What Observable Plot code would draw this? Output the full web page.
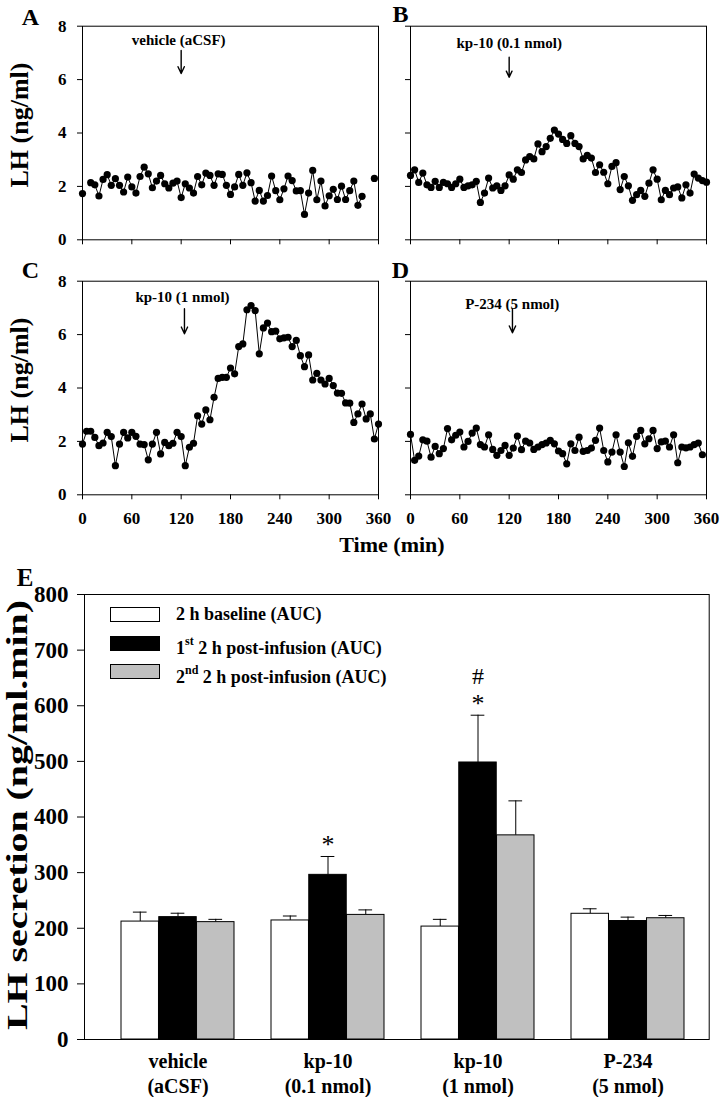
<!DOCTYPE html>
<html><head><meta charset="utf-8">
<script src="https://cdn.jsdelivr.net/npm/d3@7"></script>
<script src="https://cdn.jsdelivr.net/npm/@observablehq/plot@0.6"></script>
<style>
body{margin:0;background:#fff;}
#fig{position:relative;width:722px;height:1097px;font-family:"Liberation Serif","Times New Roman",serif;font-weight:bold;color:#000;overflow:hidden;}
.abs{position:absolute;white-space:nowrap;}
.sw{position:absolute;width:50px;height:15px;box-sizing:border-box;border:1px solid #000;}
sup{font-size:12px;position:relative;top:-2px;}
</style></head><body><div id="fig"></div>
<script>
// ---------- data: panels A-D (LH, ng/ml, sampled every 5 min) ----------
const minutes = [0,5,10,15,20,25,30,35,40,45,50,55,60,65,70,75,80,85,90,95,100,105,110,115,120,125,130,135,140,145,150,155,160,165,170,175,180,185,190,195,200,205,210,215,220,225,230,235,240,245,250,255,260,265,270,275,280,285,290,295,300,305,310,315,320,325,330,335,340,345,350,355,360];
const lhVehicle = [1.73,null,2.14,2.06,1.64,2.26,2.44,2.04,2.29,2.04,1.79,2.35,1.98,1.75,2.37,2.72,2.47,1.95,2.2,2.41,2.1,1.94,2.12,2.2,1.58,2.1,1.94,1.75,2.37,2.06,2.5,2.41,2.04,2.47,2.45,2.04,1.7,1.98,2.45,2.04,2.51,2.14,1.45,1.85,1.45,1.66,2.39,1.84,1.5,1.91,2.39,2.22,1.83,1.84,0.95,1.75,2.6,1.5,2.2,1.27,1.65,1.89,1.51,2.01,1.51,1.84,2.2,1.29,1.63,null,null,2.3,null];
const lhKp01 = [2.41,2.62,2.15,2.5,2.06,1.96,2.19,1.96,2.15,2.1,1.96,2.1,2.27,1.96,2.02,2.06,2.19,1.4,1.75,2.31,1.94,2.02,1.85,2.02,2.43,2.27,2.62,2.52,2.99,3.12,3.03,3.59,3.3,3.49,3.8,4.11,3.96,3.76,3.61,3.9,3.61,3.49,3.03,3.16,3.06,2.52,2.81,2.53,2.1,2.75,2.89,1.88,2.37,2.02,1.48,1.69,1.85,1.63,2.12,2.62,2.27,1.5,1.85,1.69,1.94,1.98,1.57,2.06,1.75,2.46,2.31,2.22,2.16];
const lhKp1 = [1.9,2.38,2.38,2.15,1.84,1.94,2.34,2.18,1.09,1.9,2.34,2.13,2.34,2.19,1.9,1.88,1.31,1.9,2.34,1.53,1.96,1.84,1.93,2.34,2.18,1.09,1.78,1.93,2.96,2.65,3.18,2.81,3.65,4.36,4.4,4.4,4.75,4.53,5.55,5.65,6.93,7.09,6.9,5.28,6.25,6.43,6.11,6.13,5.84,5.88,5.9,5.55,5.78,5.21,4.8,5.24,4.3,4.55,4.3,4.15,4.36,4.09,3.81,3.8,3.44,3.43,2.71,3.03,3.4,2.84,3.03,2.09,2.65];
const lhP234 = [2.26,1.29,1.45,2.06,2.01,1.41,1.81,1.54,1.73,2.48,2.06,2.23,2.35,1.79,2.0,2.31,2.5,1.88,1.79,2.25,1.7,1.48,1.66,1.85,1.48,1.75,2.2,1.69,2.01,1.94,1.7,1.79,1.88,1.94,2.04,1.91,1.64,1.54,1.16,1.91,1.66,2.16,1.63,1.66,1.75,2.04,2.5,1.66,1.23,1.6,2.25,1.6,1.06,1.95,1.44,2.19,2.41,1.91,2.1,2.41,1.73,1.98,2.01,1.79,2.25,1.2,1.79,1.76,1.79,1.88,1.94,1.5,null];
const timeTicks = [0,60,120,180,240,300,360];
const lhTicks = [0,2,4,6,8];
const infusionLabels = ["vehicle (aCSF)","kp-10 (0.1 nmol)","kp-10 (1 nmol)","P-234 (5 nmol)"];

// ---------- data: panel E (AUC, ng/ml.min) ----------
const groups = ["vehicle","kp-10 0.1","kp-10 1","P-234"];
const groupLabels = ["vehicle\n(aCSF)","kp-10\n(0.1 nmol)","kp-10\n(1 nmol)","P-234\n(5 nmol)"];
const periods = ["2 h baseline (AUC)","1st 2 h post-infusion (AUC)","2nd 2 h post-infusion (AUC)"];
const baselineMean = [212,214,203,226];
const baselineSem  = [17,8,13,9];
const post1Mean    = [220,296,498,213];
const post1Sem     = [7,33,85,7];
const post2Mean    = [211,224,367,218];
const post2Sem     = [5,9,62,5];
const aucTicks = [0,100,200,300,400,500,600,700,800];
const sigSymbols = ["*","*","#"];
const sigGroups  = ["kp-10 0.1","kp-10 1","kp-10 1"];

const FONT = '"Liberation Serif","Times New Roman",serif';
const fig = document.getElementById("fig");

function place(el, left, top){ el.style.position="absolute"; el.style.left=left+"px"; el.style.top=top+"px"; fig.appendChild(el); }

// ---------- panels A-D ----------
const panels = [
  {id:"A", values:lhVehicle, left:0,   top:0,   xLab:false, yLab:true,  ldx:-52, ldy:-9,  note:{x:117,y:7.46}, arrow:{x:120,y1:7.09,y2:6.23}},
  {id:"B", values:lhKp01,    left:328, top:0,   xLab:false, yLab:false, ldx:-10, ldy:-11.5, note:{x:120,y:7.36}, arrow:{x:120,y1:6.84,y2:6.09}},
  {id:"C", values:lhKp1,     left:0,   top:255, xLab:true,  yLab:true,  ldx:-52, ldy:-11, note:{x:121.6,y:7.39}, arrow:{x:124,y1:6.97,y2:6.03}},
  {id:"D", values:lhP234,    left:328, top:255, xLab:true,  yLab:false, ldx:-10, ldy:-10.5, note:{x:123.7,y:7.14}, arrow:{x:124,y1:6.97,y2:6.07}}
];
panels.forEach((p, k) => {
  const data = minutes.map((t,i)=>({t, v:p.values[i]}));
  const H = p.xLab ? 300 : 260;
  const svg = Plot.plot({
    width: 390, height: H,
    marginLeft: 82, marginRight: 12, marginTop: 25.7, marginBottom: H - 25.7 - 213.6,
    style: {background:"transparent", fontFamily: FONT, fontWeight:"bold", overflow:"visible"},
    x: {domain:[0,360], label:null},
    y: {domain:[0,8], label:null},
    marks: [
      Plot.frame({stroke:"black"}),
      Plot.axisX({ticks:timeTicks, tickSize:5, tickPadding:12, fontSize:17, label:null, tickFormat: p.xLab ? (d=>String(d)) : (()=>"")}),
      Plot.axisY({ticks:lhTicks, tickSize:5, tickPadding:11, fontSize:17, label:null, tickFormat: p.yLab ? (d=>String(d)) : (()=>"")}),
      Plot.line(data, {x:"t", y:"v", stroke:"black", strokeWidth:1}),
      Plot.dot(data, {x:"t", y:"v", r:3.6, fill:"black"}),
      Plot.text([p.note], {x:"x", y:"y", text:()=>infusionLabels[k], fontSize:15}),
      Plot.arrow([p.arrow], {x1:"x", x2:"x", y1:"y1", y2:"y2", stroke:"black", strokeWidth:1.4, headLength:8, headAngle:50}),
      Plot.text([p.id], {frameAnchor:"top-left", text:d=>d, textAnchor:"middle", lineAnchor:"middle", dx:p.ldx, dy:p.ldy, fontSize:24}),
      p.yLab ? Plot.text(["LH (ng/ml)"], {frameAnchor:"left", text:d=>d, textAnchor:"middle", lineAnchor:"middle", rotate:-90, dx:-63, dy:-8, fontSize:26}) : null
    ]
  });
  place(svg, p.left, p.top);
});

const tl = document.createElement("div");
tl.className="abs"; tl.textContent="Time (min)";
tl.style.cssText += "left:292px;width:200px;text-align:center;top:531px;font-size:22px;line-height:28px;";
fig.appendChild(tl);

// ---------- panel E ----------
const W=722, H=542, mL=84, mR=13.3, mT=39, mB=58;
const pIn=0.249, pOut=0.195;
const step=(W-mL-mR)/(groups.length - pIn + 2*pOut);
const bw=step*(1-pIn), third=bw/3, cap=7;
const fills=["white","black","#c0c0c0"];
const means=[baselineMean, post1Mean, post2Mean];
const sems=[baselineSem, post1Sem, post2Sem];
const rows = periods.map((p,i)=>groups.map((g,j)=>({group:g, period:i, mean:means[i][j], top:means[i][j]+sems[i][j]})));
const sig = sigSymbols.map((s,i)=>{
  const j = groups.indexOf(sigGroups[i]);
  return {group:sigGroups[i], symbol:s, top:post1Mean[j]+post1Sem[j]};
});
const yTitle = "LH secretion (ng/ml.min)";
const eMarks = [Plot.frame({stroke:"black"})];
rows.forEach((r,i)=>{
  eMarks.push(Plot.ruleX(r, {x:"group", y1:"mean", y2:"top", dx:(i-1)*third, stroke:"black"}));
  eMarks.push(Plot.tickY(r, {x:"group", y:"top", insetLeft:(i+0.5)*third-cap, insetRight:bw-(i+0.5)*third-cap, stroke:"black"}));
  eMarks.push(Plot.barY(r, {x:"group", y:"mean", insetLeft:i*third, insetRight:bw-(i+1)*third, fill:fills[i], stroke:"black", strokeWidth:1}));
});
eMarks.push(
  Plot.axisY({ticks:aucTicks, tickSize:7, tickPadding:9, fontSize:23, label:null}),
  Plot.axisX({tickSize:0, tickPadding:11, fontSize:20, lineHeight:1.25, label:null, tickFormat:d=>groupLabels[groups.indexOf(d)]}),
  Plot.text(sig.filter(d=>d.symbol==="*"), {x:"group", y:"top", text:"symbol", dy:-12, fontSize:26, fontWeight:"normal"}),
  Plot.text(sig.filter(d=>d.symbol==="#"), {x:"group", y:"top", text:"symbol", dy:-39, fontSize:24, fontWeight:"normal"}),
  Plot.text([yTitle], {frameAnchor:"left", text:d=>d, textAnchor:"middle", lineAnchor:"middle", rotate:-90, dx:-67, dy:-2, fontSize:30}),
  Plot.text(["E"], {frameAnchor:"top-left", text:d=>d, textAnchor:"middle", lineAnchor:"middle", dx:-59.5, dy:-16.5, fontSize:25})
);
const eSvg = Plot.plot({
  width:W, height:H, marginLeft:mL, marginRight:mR, marginTop:mT, marginBottom:mB,
  style:{background:"transparent", fontFamily:FONT, fontWeight:"bold", overflow:"visible"},
  x:{domain:groups, paddingInner:pIn, paddingOuter:pOut, align:0.59, label:null},
  y:{domain:[0,800], label:null},
  marks: eMarks
});
// stretch the tall y-axis title along its length, as in the original figure
eSvg.querySelectorAll("text").forEach(t => {
  if (t.textContent === yTitle) { t.setAttribute("textLength", 430); t.setAttribute("lengthAdjust", "spacingAndGlyphs"); }
});
place(eSvg, 0, 555);

// legend (inside plot E)
const legY=[606.7,635.7,664];
const legHTML=["2 h baseline (AUC)","1<sup>st</sup> 2 h post-infusion (AUC)","2<sup>nd</sup> 2 h post-infusion (AUC)"];
legY.forEach((y,i)=>{
  const sw=document.createElement("div"); sw.className="sw"; sw.style.left="110px"; sw.style.top=y+"px"; sw.style.background=fills[i]; fig.appendChild(sw);
  const t=document.createElement("div"); t.className="abs"; t.innerHTML=legHTML[i];
  t.style.cssText+=`left:176px;top:${y-3.5}px;font-size:18px;line-height:22px;`;
  fig.appendChild(t);
});
</script></body></html>
